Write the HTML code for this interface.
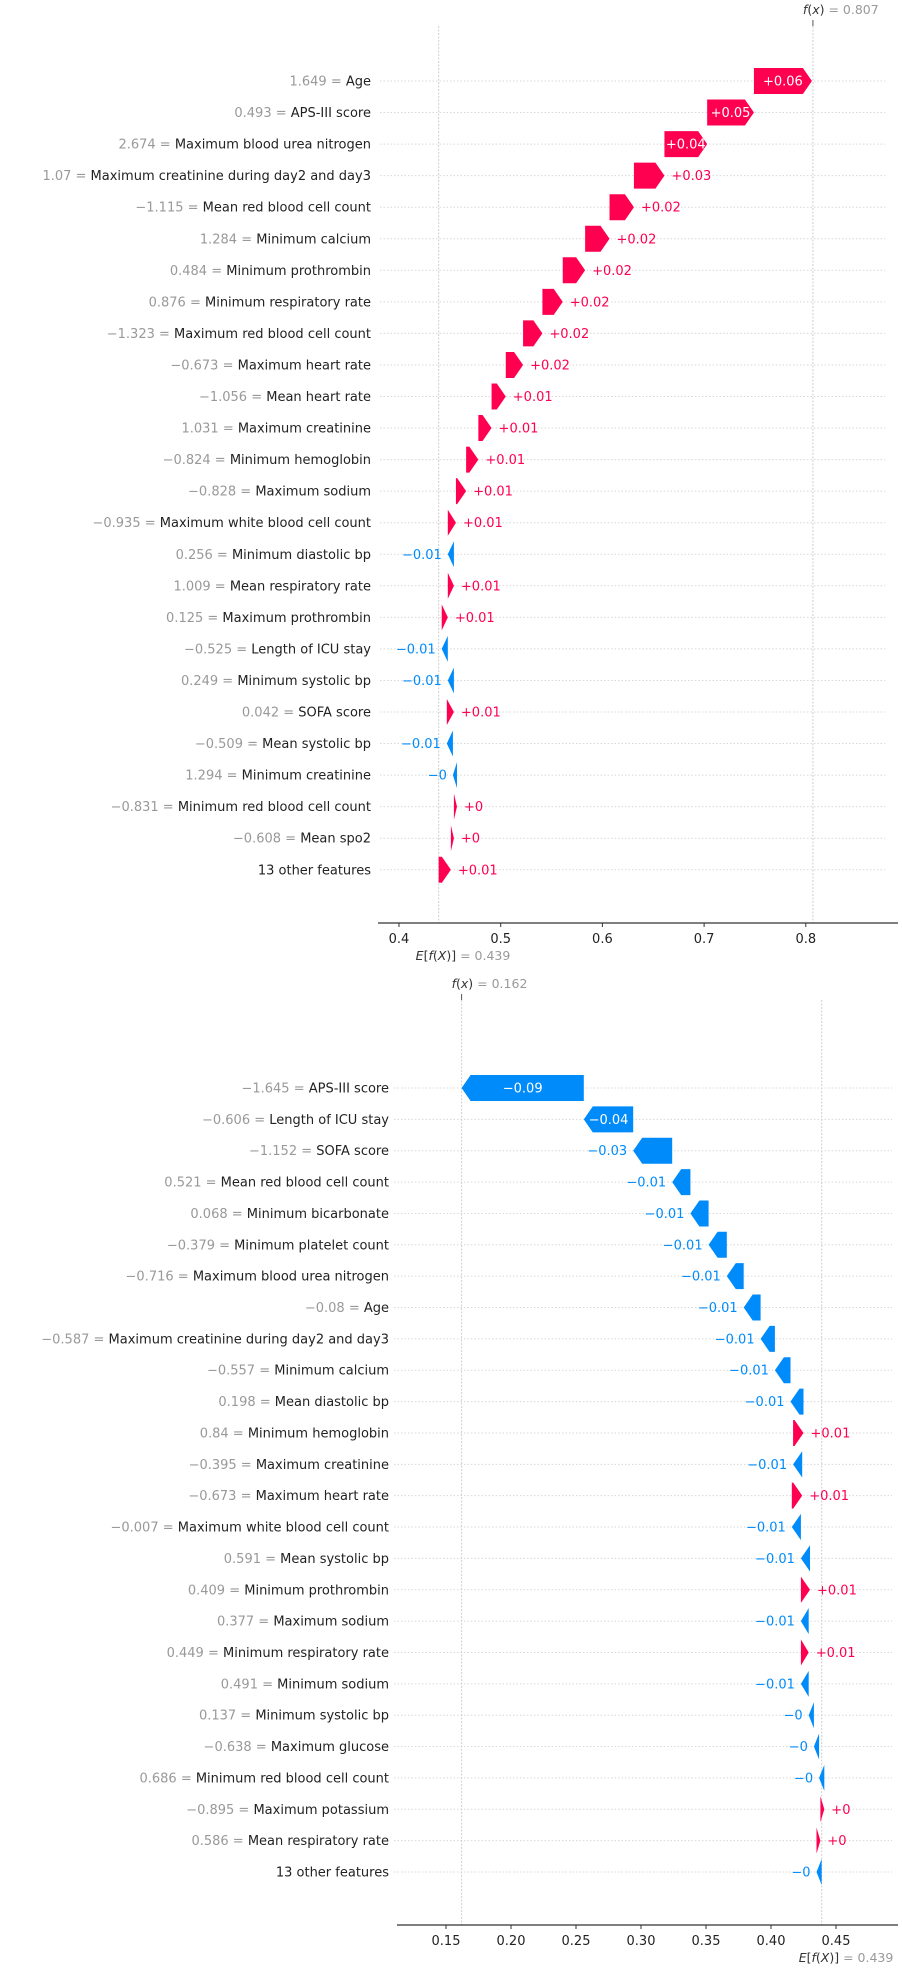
<!DOCTYPE html>
<html><head><meta charset="utf-8"><title>SHAP waterfall plots</title>
<style>
html,body{margin:0;padding:0;background:#fff;}
svg{display:block;font-family:"DejaVu Sans","Liberation Sans",sans-serif;}
</style></head>
<body>
<svg id="chart" width="902" height="1974" viewBox="0 0 902 1974" xmlns="http://www.w3.org/2000/svg"></svg>
<script>
// ---------- Top chart data ----------
const topFeatures = ["Age","APS-III score","Maximum blood urea nitrogen","Maximum creatinine during day2 and day3","Mean red blood cell count","Minimum calcium","Minimum prothrombin","Minimum respiratory rate","Maximum red blood cell count","Maximum heart rate","Mean heart rate","Maximum creatinine","Minimum hemoglobin","Maximum sodium","Maximum white blood cell count","Minimum diastolic bp","Mean respiratory rate","Maximum prothrombin","Length of ICU stay","Minimum systolic bp","SOFA score","Mean systolic bp","Minimum creatinine","Minimum red blood cell count","Mean spo2","13 other features"];
const topFeatureValues = ["1.649","0.493","2.674","1.07","\u22121.115","1.284","0.484","0.876","\u22121.323","\u22120.673","\u22121.056","1.031","\u22120.824","\u22120.828","\u22120.935","0.256","1.009","0.125","\u22120.525","0.249","0.042","\u22120.509","1.294","\u22120.831","\u22120.608",""];
const topShap = [0.057,0.046,0.042,0.030,0.024,0.024,0.022,0.020,0.019,0.017,0.014,0.013,0.012,0.010,0.008,-0.006,0.006,0.006,-0.006,-0.006,0.007,-0.006,-0.004,0.003,0.003,0.012];
const topBase = 0.439;
const topFx = 0.807;
const topTicks = [0.4,0.5,0.6,0.7,0.8];
const topTickLabels = ["0.4","0.5","0.6","0.7","0.8"];

// ---------- Bottom chart data ----------
const botFeatures = ["APS-III score","Length of ICU stay","SOFA score","Mean red blood cell count","Minimum bicarbonate","Minimum platelet count","Maximum blood urea nitrogen","Age","Maximum creatinine during day2 and day3","Minimum calcium","Mean diastolic bp","Minimum hemoglobin","Maximum creatinine","Maximum heart rate","Maximum white blood cell count","Mean systolic bp","Minimum prothrombin","Maximum sodium","Minimum respiratory rate","Minimum sodium","Minimum systolic bp","Maximum glucose","Minimum red blood cell count","Maximum potassium","Mean respiratory rate","13 other features"];
const botFeatureValues = ["\u22121.645","\u22120.606","\u22121.152","0.521","0.068","\u22120.379","\u22120.716","\u22120.08","\u22120.587","\u22120.557","0.198","0.84","\u22120.395","\u22120.673","\u22120.007","0.591","0.409","0.377","0.449","0.491","0.137","\u22120.638","0.686","\u22120.895","0.586",""];
const botShap = [-0.094,-0.038,-0.030,-0.014,-0.014,-0.014,-0.013,-0.013,-0.011,-0.012,-0.010,0.008,-0.007,0.008,-0.007,-0.007,0.007,-0.006,0.006,-0.006,-0.004,-0.004,-0.004,0.003,0.003,-0.004];
const botBase = 0.439;
const botFx = 0.162;
const botTicks = [0.15,0.20,0.25,0.30,0.35,0.40,0.45];
const botTickLabels = ["0.15","0.20","0.25","0.30","0.35","0.40","0.45"];

const NS = "http://www.w3.org/2000/svg";
const svg = document.getElementById("chart");
const RED = "#ff0051", BLUE = "#008bfb";

function mk(tag, attrs, parent){
  const e = document.createElementNS(NS, tag);
  for (const k in attrs) e.setAttribute(k, attrs[k]);
  (parent||svg).appendChild(e);
  return e;
}
function fmt(v){
  let s = Math.abs(v).toFixed(2).replace(/0+$/,'').replace(/\.$/,'');
  return (v < 0 ? "\u2212" : "+") + s;
}

function drawChart(cfg){
  const g = mk("g", {});
  
  
  const X = v => cfg.x0 + (v - cfg.v0) * cfg.k;
  const Y = i => cfg.y0 + i * cfg.dy;
  const n = cfg.features.length;
  const yTop = cfg.lineTop, yAxis = cfg.axisY;

  for (let i = 0; i < n; i++){
    const gl = mk("line", {x1: cfg.gridX1, x2: cfg.gridX2, y1: Y(i), y2: Y(i), stroke:"#d8d8d8", "stroke-width":1, "stroke-dasharray":"1.5 2"}, g);
    
    
  }
  const fl = mk("line", {x1: X(cfg.fx), x2: X(cfg.fx), y1: yTop, y2: yAxis, stroke:"#cfcfcf", "stroke-width":1, "stroke-dasharray":"2 1.5"}, g);
  
  
  const el = mk("line", {x1: X(cfg.base), x2: X(cfg.base), y1: yTop, y2: yAxis, stroke:"#cfcfcf", "stroke-width":1, "stroke-dasharray":"2 1.5"}, g);
  
  
  const ft = mk("line", {x1: X(cfg.fx), x2: X(cfg.fx), y1: yTop - 6, y2: yTop, stroke:"#555", "stroke-width":1}, g);
  
  

  const fT = mk("text", {x: X(cfg.fx) - 10, y: yTop - 12, "font-size": 12.5, fill:"#333"}, g);
  
  
  const fa = mk("tspan", {"font-style":"italic"}, fT); fa.textContent = "f";
  const fb = mk("tspan", {}, fT); fb.textContent = "(";
  const fc = mk("tspan", {"font-style":"italic"}, fT); fc.textContent = "x";
  const fd = mk("tspan", {}, fT); fd.textContent = ")";
  const fe = mk("tspan", {fill:"#999"}, fT); fe.textContent = " = " + cfg.fx.toFixed(3);

  let cum = cfg.base;
  const starts = new Array(n);
  for (let i = n - 1; i >= 0; i--){ starts[i] = cum; cum += cfg.shap[i]; }

  const H = 26, HL = 9;
  for (let i = 0; i < n; i++){
    const v = cfg.shap[i], s = starts[i], e = s + v;
    const xs = X(s), xe = X(e), y = Y(i);
    const w = Math.abs(xe - xs);
    const hl = Math.min(HL, w);
    const dir = v >= 0 ? 1 : -1;
    const xb = xe - dir * hl;
    const pts = [[xs, y - H/2],[xb, y - H/2],[xe, y],[xb, y + H/2],[xs, y + H/2]];
    const bar = mk("polygon", {points: pts.map(p => p[0].toFixed(2)+","+p[1].toFixed(2)).join(" "), fill: v >= 0 ? RED : BLUE}, g);
    
    

    const txt = fmt(v);
    const tw = txt.length * 7.2;
    let t;
    if (tw + 4 < w){
      t = mk("text", {x: (xs + xe) / 2, y: y + 4.5, "font-size": 13, fill:"#fff", "text-anchor":"middle"}, g);
    } else if (v >= 0){
      t = mk("text", {x: xe + 7, y: y + 4.5, "font-size": 13, fill: RED}, g);
    } else {
      t = mk("text", {x: xe - 6, y: y + 4.5, "font-size": 13, fill: BLUE, "text-anchor":"end"}, g);
    }
    t.textContent = txt;
    
    

    const lab = mk("text", {x: cfg.labelX, y: y + 4.5, "font-size": 13, "text-anchor":"end", fill:"#222"}, g);
    
    
    if (cfg.fvals[i] !== ""){
      const a = mk("tspan", {fill:"#999"}, lab); a.textContent = cfg.fvals[i] + " = ";
    }
    const b = mk("tspan", {}, lab); b.textContent = cfg.features[i];
  }

  const ax = mk("line", {x1: cfg.axisX1, x2: cfg.axisX2, y1: yAxis, y2: yAxis, stroke:"#333", "stroke-width":1.2}, g);
  
  
  for (let j = 0; j < cfg.ticks.length; j++){
    const tx = X(cfg.ticks[j]);
    const tk = mk("line", {x1: tx, x2: tx, y1: yAxis, y2: yAxis + 4, stroke:"#333", "stroke-width":1}, g);
    
    
    const tl = mk("text", {x: tx, y: yAxis + 20, "font-size": 13, fill:"#222", "text-anchor":"middle"}, g);
    tl.textContent = cfg.tickLabels[j];
    
    
  }
  const eT = mk("text", {x: X(cfg.base) - 23, y: yAxis + 37, "font-size": 12.5, fill:"#333"}, g);
  
  
  const e1 = mk("tspan", {"font-style":"italic"}, eT); e1.textContent = "E";
  const e2 = mk("tspan", {}, eT); e2.textContent = "[";
  const e3 = mk("tspan", {"font-style":"italic"}, eT); e3.textContent = "f";
  const e4 = mk("tspan", {}, eT); e4.textContent = "(";
  const e5 = mk("tspan", {"font-style":"italic"}, eT); e5.textContent = "X";
  const e6 = mk("tspan", {}, eT); e6.textContent = ")]";
  const e7 = mk("tspan", {fill:"#999"}, eT); e7.textContent = " = " + cfg.base.toFixed(3);
}

drawChart({name:"waterfall-top", features: topFeatures, fvals: topFeatureValues, shap: topShap,
  base: topBase, fx: topFx, ticks: topTicks, tickLabels: topTickLabels,
  x0: 399, v0: 0.4, k: 1017, y0: 81, dy: 31.55, lineTop: 26, axisY: 923,
  labelX: 371, gridX1: 380, gridX2: 885, axisX1: 378, axisX2: 898});

drawChart({name:"waterfall-bottom", features: botFeatures, fvals: botFeatureValues, shap: botShap,
  base: botBase, fx: botFx, ticks: botTicks, tickLabels: botTickLabels,
  x0: 446, v0: 0.15, k: 1300, y0: 1088, dy: 31.36, lineTop: 1000, axisY: 1925,
  labelX: 389, gridX1: 394, gridX2: 892, axisX1: 397, axisX2: 898});
</script>
</body></html>
